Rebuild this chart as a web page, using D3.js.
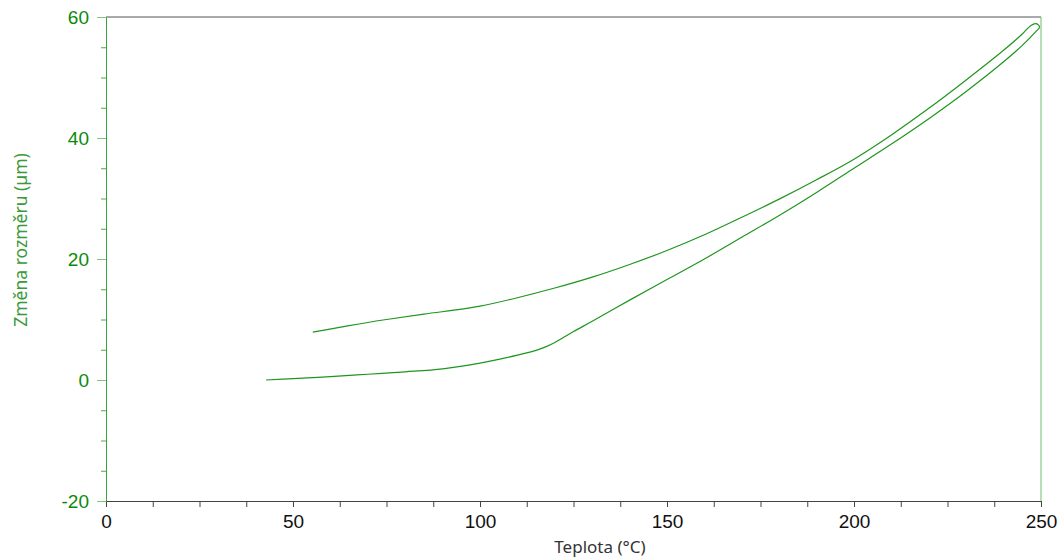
<!DOCTYPE html>
<html>
<head>
<meta charset="utf-8">
<script src="https://cdn.jsdelivr.net/npm/d3@7"></script>
<style>
  body { margin: 0; background: #fff; }
  .tick text { font-family: "Liberation Sans", Arial, sans-serif; font-size: 19px; }
</style>
</head>
<body>
<div id="chart"></div>
<script>
// heating run (lower branch) : temperature (°C) and dimension change (µm)
const heatT = [42.8, 50, 60, 70, 80, 90, 100, 105, 110, 115, 118, 120, 122, 125, 130, 140, 150, 160, 170, 180, 190, 200, 210, 220, 230, 240, 245, 248.8, 249.6];
const heatV = [0, 0.22, 0.55, 0.95, 1.35, 1.85, 2.8, 3.4, 4.1, 4.9, 5.6, 6.2, 6.9, 8.0, 9.7, 13.2, 16.6, 20.0, 23.6, 27.2, 31.0, 35.0, 39.0, 43.2, 47.7, 52.6, 55.3, 57.7, 58.3];

// cooling run (upper branch)
const coolT = [249.6, 249.3, 248.5, 247.3, 245, 240, 230, 220, 210, 200, 190, 180, 170, 160, 150, 140, 130, 120, 110, 100, 95, 85, 75, 65, 55.3];
const coolV = [58.3, 58.7, 58.9, 58.6, 57.2, 54.5, 49.6, 44.9, 40.5, 36.5, 33.1, 29.9, 26.9, 24.0, 21.4, 19.1, 17.0, 15.2, 13.6, 12.2, 11.7, 10.9, 10.0, 9.0, 7.9];

const xTicks = d3.range(0, 251, 12.5);
const yTicks = d3.range(-20, 61, 5);

// set the dimensions and margins of the graph
const margin = {top: 17, right: 23, bottom: 56, left: 106};
const width = 1064 - margin.left - margin.right;
const height = 557 - margin.top - margin.bottom;

const svg = d3.select("#chart")
  .append("svg")
    .attr("width", 1064)
    .attr("height", 557)
  .append("g")
    .attr("transform", `translate(${margin.left},${margin.top})`);

const xScale = d3.scaleLinear().domain([0, 250]).range([0, width]);
const yScale = d3.scaleLinear().domain([-20, 60]).range([height, 0]);

// top frame line and right green border
svg.append("line")
  .attr("x1", 0).attr("x2", width).attr("y1", 0).attr("y2", 0)
  .style("stroke", "#555").style("stroke-width", 1);
svg.append("line")
  .attr("x1", width).attr("x2", width).attr("y1", 0).attr("y2", height)
  .style("stroke", "#6cbf6c").style("stroke-width", 1);

// X axis
const xAxis = svg.append("g")
  .attr("transform", `translate(0, ${height})`)
  .call(d3.axisBottom(xScale)
    .tickValues(xTicks)
    .tickSize(6)
    .tickPadding(8)
    .tickFormat(d => d % 50 === 0 ? String(d) : ""));
xAxis.select(".domain").style("stroke", "#444");
xAxis.selectAll(".tick line").style("stroke", "#444");
xAxis.selectAll(".tick text").style("fill", "#111");

// Y axis - minor ticks
const yMinor = svg.append("g")
  .call(d3.axisLeft(yScale)
    .tickValues(yTicks.filter(d => d % 20 !== 0))
    .tickSize(5)
    .tickFormat(""));
yMinor.select(".domain").remove();
yMinor.selectAll(".tick line").style("stroke", "#4aaa4a");

// Y axis - major ticks
const yAxis = svg.append("g")
  .call(d3.axisLeft(yScale)
    .tickValues(yTicks.filter(d => d % 20 === 0))
    .tickSizeInner(9)
    .tickSizeOuter(0)
    .tickPadding(8)
    .tickFormat(d => String(d)));
yAxis.select(".domain").style("stroke", "#3aa53a");
yAxis.selectAll(".tick line").style("stroke", "#7cc67c");
yAxis.selectAll(".tick text").style("fill", "#0a8a0a");

// lines
const line = d3.line()
  .x(d => xScale(d[0]))
  .y(d => yScale(d[1]))
  .curve(d3.curveCatmullRom.alpha(0.5));

const heat = heatT.map((t, i) => [t, heatV[i]]);
const cool = coolT.map((t, i) => [t, coolV[i]]);

svg.append("path")
  .datum(heat.concat(cool.slice(1)))
  .attr("d", line)
  .style("fill", "none")
  .style("stroke", "#1e961e")
  .style("stroke-width", 1.2);

// X axis label
svg.append("text")
  .attr("x", 600 - margin.left)
  .attr("y", 553 - margin.top)
  .attr("text-anchor", "middle")
  .style("font-family", "'Segoe UI', 'Noto Sans', sans-serif")
  .style("font-size", "17px")
  .style("fill", "#333")
  .text("Teplota (°C)");

// Y axis label
svg.append("text")
  .attr("transform", `translate(${27 - margin.left}, ${240 - margin.top}) rotate(-90)`)
  .attr("text-anchor", "middle")
  .style("font-family", "'Segoe UI', 'Noto Sans', sans-serif")
  .style("font-size", "17.5px")
  .style("fill", "#3a9a3a")
  .text("Změna rozměru (µm)");
</script>
</body>
</html>
